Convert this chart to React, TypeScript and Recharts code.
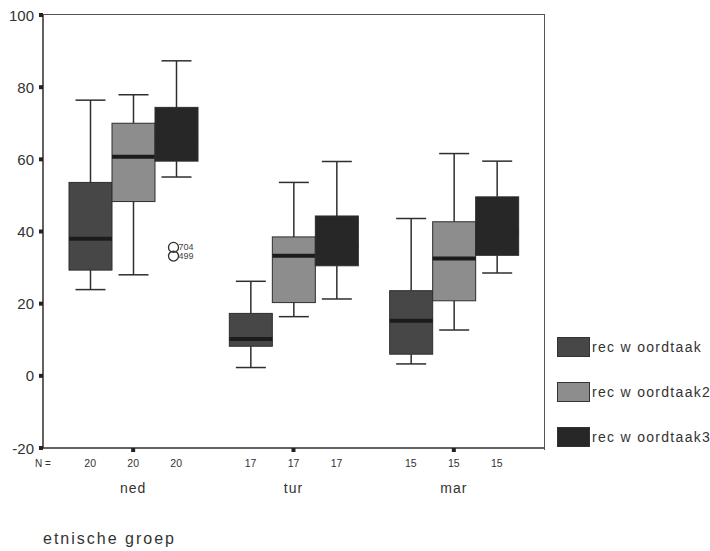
import { ComposedChart, Bar, XAxis, YAxis } from "recharts";

const categories = ["ned", "tur", "mar"];
const nCounts = [20, 17, 15];
const seriesNames = ["rec w oordtaak", "rec w oordtaak2", "rec w oordtaak3"];
const seriesColors = ["#474747", "#8d8d8d", "#272727"];

// [min, q1, median, q3, max] per category (ned, tur, mar)
const woord1 = [
  [23.9, 29.3, 38, 53.6, 76.4],
  [2.3, 8.2, 10.2, 17.3, 26.2],
  [3.3, 6.0, 15.3, 23.6, 43.6],
];
const woord2 = [
  [28, 48.3, 60.7, 70, 77.9],
  [16.4, 20.3, 33.3, 38.5, 53.6],
  [12.7, 20.8, 32.5, 42.7, 61.6],
];
const woord3 = [
  [55.1, 59.5, 66, 74.4, 87.3],
  [21.3, 30.5, 36, 44.3, 59.4],
  [28.5, 33.4, 40, 49.6, 59.5],
];
// outliers of rec woordtaak3
const outlierValues = [[35.6, 33.2], [], []];
const outlierLabels = [["704", "499"], [], []];

const yTicks = [-20, 0, 20, 40, 60, 80, 100];

const allStats = [woord1, woord2, woord3];

const data = categories.map((cat, i) => {
  const row: any = { cat, n: nCounts[i] };
  allStats.forEach((s, k) => {
    row["box" + k] = [s[i][1], s[i][3]];
    row["stats" + k] = s[i];
    row["out" + k] = k === 2 ? outlierValues[i] : [];
    row["outLbl" + k] = k === 2 ? outlierLabels[i] : [];
  });
  return row;
});

const FONT = "Arial, 'Liberation Sans', sans-serif";
const BOX_W = 43;
const INK = "#2e2e2e";

const makeShape = (k: number) => (props: any) => {
  const { x, y, width, height, payload } = props;
  const [mn, q1, med, q3, mx] = payload["stats" + k];
  const per = height / (q3 - q1);
  const toY = (v: number) => y + (q3 - v) * per;
  const cx = x + width / 2;
  const cap = 15;
  const outs: number[] = payload["out" + k] || [];
  const lbls: string[] = payload["outLbl" + k] || [];
  // median bar is black; on the near-black box it disappears like in the original
  const medColor = k === 2 ? seriesColors[2] : "#1c1c1c";
  return (
    <g>
      <line x1={cx} x2={cx} y1={toY(mx)} y2={y} stroke={INK} strokeWidth={1.5} />
      <line x1={cx - cap} x2={cx + cap} y1={toY(mx)} y2={toY(mx)} stroke={INK} strokeWidth={1.5} />
      <line x1={cx} x2={cx} y1={y + height} y2={toY(mn)} stroke={INK} strokeWidth={1.5} />
      <line x1={cx - cap} x2={cx + cap} y1={toY(mn)} y2={toY(mn)} stroke={INK} strokeWidth={1.5} />
      <rect x={x} y={y} width={width} height={height} fill={seriesColors[k]} stroke={INK} strokeWidth={1} />
      <line x1={x} x2={x + width} y1={toY(med)} y2={toY(med)} stroke={medColor} strokeWidth={4} />
      {outs.map((v, j) => (
        <g key={j}>
          <circle cx={cx - 3} cy={toY(v)} r={5} fill="none" stroke={INK} strokeWidth={1.3} />
          <text x={cx + 2} y={toY(v)} fontSize={9} fontFamily={FONT} fill="#444" dominantBaseline="central">
            {lbls[j]}
          </text>
        </g>
      ))}
    </g>
  );
};

const YTick = ({ x, y, payload }: any) => (
  <g>
    <rect x={x - 4} y={y - 2} width={4} height={4} fill="#222" />
    <text x={x - 9} y={y} textAnchor="end" dominantBaseline="central" fontSize={15} fontFamily={FONT} fill="#333">
      {payload.value}
    </text>
  </g>
);

const XTick = ({ x, y, payload, index }: any) => {
  const i = categories.indexOf(payload.value);
  return (
    <g>
      <rect x={x - 2} y={y} width={4} height={4} fill="#222" />
      {index === 0 && (
        <text x={43} y={y + 15} textAnchor="middle" dominantBaseline="central" fontSize={10} fontFamily={FONT} fill="#333">
          N =
        </text>
      )}
      {[-1, 0, 1].map((d) => (
        <text key={d} x={x + d * BOX_W} y={y + 15} textAnchor="middle" dominantBaseline="central" fontSize={10.5} fontFamily={FONT} fill="#333">
          {nCounts[i]}
        </text>
      ))}
      <text x={x} y={y + 40} textAnchor="middle" dominantBaseline="central" fontSize={14} fontFamily={FONT} fill="#333" letterSpacing={1}>
        {payload.value}
      </text>
    </g>
  );
};

export default function App() {
  return (
    <div style={{ position: "absolute", left: 0, top: 0, width: 710, height: 551, background: "#fff", overflow: "hidden" }}>
      <ComposedChart
        width={710}
        height={551}
        data={data}
        margin={{ top: 15, right: 166, bottom: 43, left: 8 }}
        barSize={BOX_W}
        barGap={0}
      >
        <XAxis
          dataKey="cat"
          height={60}
          tickSize={0}
          tickMargin={0}
          tickLine={false}
          tick={<XTick />}
          padding={{ left: 10, right: 10 }}
          axisLine={{ stroke: INK, strokeWidth: 1.5 }}
        />
        <YAxis
          width={35}
          domain={[-20, 100]}
          ticks={yTicks}
          tickSize={0}
          tickMargin={0}
          tickLine={false}
          tick={<YTick />}
          axisLine={{ stroke: INK, strokeWidth: 1.5 }}
          allowDataOverflow
        />
        {seriesNames.map((name, k) => (
          <Bar key={k} dataKey={"box" + k} name={name} fill={seriesColors[k]} isAnimationActive={false} shape={makeShape(k)} />
        ))}
      </ComposedChart>

      {/* top and right frame of the plot area */}
      <div
        style={{
          position: "absolute",
          left: 43,
          top: 14,
          width: 501,
          height: 435,
          borderTop: "1.5px solid #555",
          borderRight: "1.5px solid #555",
          pointerEvents: "none",
        }}
      />

      {seriesNames.map((name, k) => (
        <div
          key={k}
          style={{ position: "absolute", left: 557, top: 337 + k * 45, display: "flex", alignItems: "center", height: 20, whiteSpace: "nowrap" }}
        >
          <div style={{ width: 33, height: 20, flexShrink: 0, background: seriesColors[k], boxSizing: "border-box", border: "1px solid #333" }} />
          <span style={{ marginLeft: 2, fontSize: 14, fontFamily: FONT, color: "#333", letterSpacing: 1.3 }}>{name}</span>
        </div>
      ))}

      <div style={{ position: "absolute", left: 43, top: 530, fontSize: 16, fontFamily: FONT, color: "#333", letterSpacing: 2, whiteSpace: "nowrap" }}>
        etnische groep
      </div>
    </div>
  );
}
